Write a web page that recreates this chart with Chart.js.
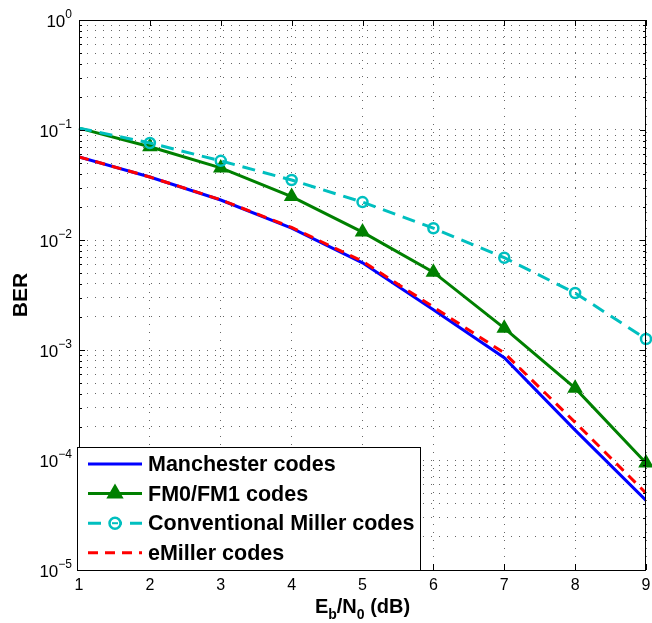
<!DOCTYPE html>
<html>
<head>
<meta charset="utf-8">
<script src="https://cdn.jsdelivr.net/npm/chart.js@4"></script>
<style>
  html, body { margin: 0; padding: 0; background: #fff; }
  #wrap { width: 652px; height: 623px; }
</style>
</head>
<body>
<div id="wrap"><canvas id="myChart" width="652" height="623"></canvas></div>
<script>
// Eb/N0 values (dB) and BER per coding scheme
const ebN0 = [1, 2, 3, 4, 5, 6, 7, 8, 9];
const manchester = [0.0569, 0.0374, 0.0231, 0.0128, 0.0062, 0.00232, 0.00085, 0.000187, 0.000043];
const fm0fm1 = [0.104, 0.0705, 0.0452, 0.0248, 0.0118, 0.0051, 0.00158, 0.00045, 0.000094];
const convMiller = [0.104, 0.0762, 0.0524, 0.0351, 0.0221, 0.0128, 0.0069, 0.0033, 0.00126];
const eMiller = [0.0569, 0.0374, 0.0232, 0.013, 0.0064, 0.00246, 0.00094, 0.00022, 0.00005];
const seriesLabels = ["Manchester codes", "FM0/FM1 codes", "Conventional Miller codes", "eMiller codes"];
const xTickLabels = ["1", "2", "3", "4", "5", "6", "7", "8", "9"];
const yDecades = [1e-5, 1e-4, 1e-3, 1e-2, 1e-1, 1];
const yDecadeExps = ["\u22125", "\u22124", "\u22123", "\u22122", "\u22121", "0"];
const xTitleParts = [["E", false], ["b", true], ["/N", false], ["0", true], [" (dB)", false]];
const yTitle = "BER";

const FONT = '"Liberation Sans", Arial, Helvetica, sans-serif';
const BLUE = "#0000ff", GREEN = "#008000", CYAN = "#00bfbf", RED = "#ff0000";

const toPts = (ys) => ebN0.map((x, i) => ({ x: x, y: ys[i] }));
// MATLAB figure has no marker at the first point (x = 1)
const triRadius = ebN0.map((x, i) => (i === 0 ? 0 : 7));
const circRadius = ebN0.map((x, i) => (i === 0 ? 0 : 5));

// all y grid values: 1..9 x 10^k
const yGridValues = [];
for (const d of yDecades) {
  if (d === 1) { yGridValues.push(1); continue; }
  for (let m = 1; m <= 9; m++) yGridValues.push(+(m * d).toPrecision(3));
}

const matlabFrame = {
  id: "matlabFrame",
  afterDraw(chart) {
    const c = chart.ctx;
    const a = chart.chartArea;
    const xs = chart.scales.x, ys = chart.scales.y;
    c.save();

    // axes box
    c.strokeStyle = "#000";
    c.lineWidth = 1;
    c.setLineDash([]);
    c.strokeRect(a.left + 0.5, a.top + 0.5, a.right - a.left - 1, a.bottom - a.top);

    // inward tick marks
    c.beginPath();
    for (const x of ebN0) {
      const px = Math.round(xs.getPixelForValue(x)) + 0.5;
      c.moveTo(px, a.bottom); c.lineTo(px, a.bottom - 6);
      c.moveTo(px, a.top); c.lineTo(px, a.top + 6);
    }
    for (const v of yGridValues) {
      const py = Math.round(ys.getPixelForValue(v)) + 0.5;
      const len = yDecades.includes(v) ? 6 : 3;
      c.moveTo(a.left, py); c.lineTo(a.left + len, py);
      c.moveTo(a.right, py); c.lineTo(a.right - len, py);
    }
    c.stroke();

    // x tick labels
    c.fillStyle = "#000";
    c.font = "16px " + FONT;
    c.textAlign = "center";
    c.textBaseline = "alphabetic";
    ebN0.forEach((x, i) => c.fillText(xTickLabels[i], xs.getPixelForValue(x), a.bottom + 20));

    // y tick labels 10^k
    yDecades.forEach((v, i) => {
      const py = ys.getPixelForValue(v);
      c.font = "12px " + FONT;
      const supW = c.measureText(yDecadeExps[i]).width;
      const right = 72;
      c.textAlign = "left";
      c.textBaseline = "alphabetic";
      c.fillText(yDecadeExps[i], right - supW, py - 2);
      c.font = "17px " + FONT;
      c.textAlign = "right";
      c.textBaseline = "middle";
      c.fillText("10", right - supW, py + 2);
    });

    // x axis title with subscripts
    const bigF = "bold 20px " + FONT, subF = "bold 14px " + FONT;
    let total = 0;
    for (const [t, sub] of xTitleParts) { c.font = sub ? subF : bigF; total += c.measureText(t).width; }
    let cx = (a.left + a.right) / 2 - total / 2;
    c.textAlign = "left";
    c.textBaseline = "alphabetic";
    for (const [t, sub] of xTitleParts) {
      c.font = sub ? subF : bigF;
      c.fillText(t, cx, sub ? 619 : 613);
      cx += c.measureText(t).width;
    }

    // y axis title
    c.save();
    c.translate(27, (a.top + a.bottom) / 2);
    c.rotate(-Math.PI / 2);
    c.font = "bold 21px " + FONT;
    c.textAlign = "center";
    c.textBaseline = "alphabetic";
    c.fillText(yTitle, 0, 0);
    c.restore();

    // legend box (inside axes, bottom-left)
    const lx = a.left - 2, lw = 343, lh = 123, ly = a.bottom - lh;
    c.fillStyle = "#fff";
    c.fillRect(lx, ly, lw, lh);
    c.strokeStyle = "#000";
    c.lineWidth = 1;
    c.strokeRect(lx + 0.5, ly + 0.5, lw, lh);

    const rows = chart.data.datasets;
    [0, 1, 2, 3].forEach((k, i) => {
      const ds = rows[k];
      const ry = ly + 17 + i * 29.6;
      const x0 = lx + 11, x1 = lx + 65;
      c.strokeStyle = ds.borderColor;
      c.lineWidth = 3;
      c.setLineDash(ds.borderDash || []);
      c.beginPath(); c.moveTo(x0, ry); c.lineTo(x1, ry); c.stroke();
      c.setLineDash([]);
      const mx = (x0 + x1) / 2;
      if (ds.pointStyle === "triangle") {
        const r = 8;
        c.fillStyle = ds.borderColor;
        c.lineWidth = 2;
        c.beginPath();
        c.moveTo(mx, ry - r);
        c.lineTo(mx + r * 0.866, ry + r * 0.5);
        c.lineTo(mx - r * 0.866, ry + r * 0.5);
        c.closePath();
        c.fill(); c.stroke();
      } else if (ds.pointStyle === "circle") {
        c.fillStyle = "#fff";
        c.lineWidth = 2.5;
        c.beginPath(); c.arc(mx, ry, 5.5, 0, Math.PI * 2); c.fill(); c.stroke();
        c.lineWidth = 2;
        c.beginPath(); c.moveTo(mx - 3, ry); c.lineTo(mx + 3, ry); c.stroke();
      }
      c.fillStyle = "#000";
      c.font = "bold 21.5px " + FONT;
      c.textAlign = "left";
      c.textBaseline = "middle";
      c.fillText(seriesLabels[k], lx + 71, ry + 1);
    });

    c.restore();
  },
};

const ctx = document.getElementById("myChart").getContext("2d");
const myChart = new Chart(ctx, {
  type: "line",
  data: {
    datasets: [
      {
        label: seriesLabels[0],
        data: toPts(manchester),
        borderColor: BLUE,
        borderWidth: 3,
        pointRadius: 0,
        order: 4,
      },
      {
        label: seriesLabels[1],
        data: toPts(fm0fm1),
        borderColor: GREEN,
        borderWidth: 3,
        pointStyle: "triangle",
        pointRadius: triRadius,
        pointBackgroundColor: GREEN,
        pointBorderColor: GREEN,
        pointBorderWidth: 2,
        order: 3,
        clip: false,
      },
      {
        label: seriesLabels[2],
        data: toPts(convMiller),
        borderColor: CYAN,
        borderWidth: 3,
        borderDash: [13, 8],
        pointStyle: "circle",
        pointRadius: circRadius,
        pointBackgroundColor: "rgba(255,255,255,0)",
        pointBorderColor: CYAN,
        pointBorderWidth: 2.5,
        order: 2,
        clip: false,
      },
      {
        label: seriesLabels[3],
        data: toPts(eMiller),
        borderColor: RED,
        borderWidth: 3,
        borderDash: [10, 7],
        pointRadius: 0,
        order: 1,
      },
    ],
  },
  options: {
    responsive: false,
    animation: false,
    devicePixelRatio: 1,
    layout: { autoPadding: false, padding: { top: 20, right: 6, left: 0, bottom: 0 } },
    plugins: { legend: { display: false }, tooltip: { enabled: false } },
    scales: {
      x: {
        type: "linear",
        min: 1,
        max: 9,
        ticks: { stepSize: 1, display: false },
        grid: { color: "#666", lineWidth: 1, drawTicks: false },
        border: { display: false, dash: [1, 7] },
        afterFit(scale) { scale.height = 53; },
      },
      y: {
        type: "logarithmic",
        min: 1e-5,
        max: 1,
        ticks: { display: false },
        grid: { color: "#666", lineWidth: 1, drawTicks: false },
        border: { display: false, dash: [1, 7] },
        afterBuildTicks(scale) { scale.ticks = yGridValues.map((v) => ({ value: v })); },
        afterFit(scale) { scale.width = 79; },
      },
    },
  },
  plugins: [matlabFrame],
});
</script>
</body>
</html>
